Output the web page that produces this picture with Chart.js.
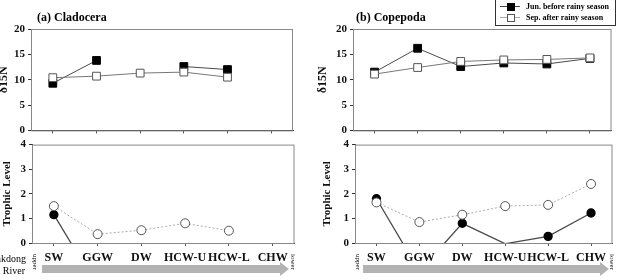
<!DOCTYPE html>
<html>
<head>
<meta charset="utf-8">
<script src="https://cdn.jsdelivr.net/npm/chart.js@4"></script>
<style>
  body { margin: 0; background: #fff; }
  #wrap { position: relative; width: 618px; height: 280px; overflow: hidden; font-family: "Liberation Serif", serif; }
  canvas { position: absolute; }
  .ttl { position: absolute; font-size: 12px; font-weight: bold; line-height: 14px; white-space: nowrap; }
  .lbl { position: absolute; white-space: nowrap; }
  #legend { position: absolute; left: 495px; top: -1px; width: 119px; height: 25px; border: 1px solid #333; background: #fff; }
  .row { position: absolute; left: 4px; width: 112px; height: 10px; font-size: 8px; font-weight: bold; line-height: 10px; white-space: nowrap; }
  .row i { position: absolute; top: 4px; width: 20px; height: 1px; }
  .row b { position: absolute; top: 1px; left: 7px; width: 6px; height: 6px; border: 1px solid #000; }
  .row span { position: absolute; left: 26px; top: 0; white-space: nowrap; }
  .rot { position: absolute; font-size: 7px; transform: rotate(90deg); transform-origin: center; }
</style>
</head>
<body>
<div id="wrap">
  <canvas id="ta" width="303" height="140" style="left:-3px;top:0"></canvas>
  <canvas id="tb" width="308" height="140" style="left:310px;top:0"></canvas>
  <canvas id="ba" width="303" height="145" style="left:-3px;top:135px"></canvas>
  <canvas id="bb" width="308" height="145" style="left:310px;top:135px"></canvas>

  <div class="ttl" style="left:37px;top:10px">(a) Cladocera</div>
  <div class="ttl" style="left:356px;top:10px">(b) Copepoda</div>

  <div id="legend">
    <div class="row" style="top:2px"><i style="background:#444"></i><b style="background:#000"></b><span>Jun. before rainy season</span></div>
    <div class="row" style="top:13px"><i style="background:#aaa"></i><b style="background:#fff;border-color:#555"></b><span>Sep. after rainy season</span></div>
  </div>

  <svg width="618" height="280" style="position:absolute;left:0;top:0">
    <polygon points="42,265 280,265 280,262 289,269 280,276 280,273 42,273" fill="#b3b3b3"/>
    <polygon points="363,265 600,265 600,262 609,269 600,276 600,273 363,273" fill="#b3b3b3"/>
  </svg>

  <div class="lbl" style="right:592px;top:253px;font-size:10px">Nakdong</div>
  <div class="lbl" style="right:593px;top:265px;font-size:10px">River</div>
  <div class="rot" style="left:27px;top:258px">upper</div>
  <div class="rot" style="left:285px;top:258px">lower</div>
  <div class="rot" style="left:350px;top:258px">upper</div>
  <div class="rot" style="left:604px;top:258px">lower</div>
</div>

<script>
const sites = ['SW', 'GGW', 'DW', 'HCW-U', 'HCW-L', 'CHW'];

// delta 15N
const cladoJunN = [9.3, 13.8, null, 12.6, 12.0, null];
const cladoSepN = [10.4, 10.7, 11.3, 11.5, 10.5, null];
const copeJunN = [11.5, 16.2, 12.6, 13.3, 13.1, 14.2];
const copeSepN = [11.1, 12.4, 13.6, 13.9, 14.0, 14.3];

// trophic level (values below 0 run off the axis)
const cladoJunTL = [1.15, -1.8, null, null, null, null];
const cladoSepTL = [1.5, 0.36, 0.52, 0.8, 0.5, null];
const copeJunTL = [1.8, -1.15, 0.8, -0.03, 0.27, 1.22];
const copeSepTL = [1.65, 0.85, 1.15, 1.5, 1.55, 2.4];

const serif = 'Liberation Serif';

// grey box around the plot area
const boxPlugin = {
  id: 'box',
  afterDraw(chart) {
    const a = chart.chartArea;
    const ctx = chart.ctx;
    ctx.save();
    ctx.strokeStyle = '#888';
    ctx.lineWidth = 1;
    ctx.strokeRect(a.left + 0.5, a.top + 0.5, a.right - a.left - 1, a.bottom - a.top);
    ctx.restore();
  }
};

function makeChart(id, opt) {
  const top = opt.kind === 'n';
  const sq = top ? 'rect' : 'circle';
  new Chart(document.getElementById(id), {
    type: 'line',
    data: {
      labels: sites,
      datasets: [{
        label: 'Jun. before rainy season',
        data: opt.jun,
        order: 2,
        borderColor: '#4a4a4a',
        borderWidth: top ? 1 : 1.3,
        pointStyle: sq,
        pointRadius: c => (c.raw != null && c.raw < 0) ? 0 : (top ? 5.5 : 4),
        pointBackgroundColor: '#000',
        pointBorderColor: '#000',
        tension: 0
      }, {
        label: 'Sep. after rainy season',
        data: opt.sep,
        order: 1,
        borderColor: top ? '#777' : '#aaa',
        borderWidth: 1,
        borderDash: top ? [] : [2, 2],
        pointStyle: sq,
        pointRadius: top ? 5.5 : 4.5,
        pointBackgroundColor: '#fff',
        pointBorderColor: '#555',
        pointBorderWidth: 1,
        tension: 0
      }]
    },
    options: {
      responsive: false,
      animation: false,
      devicePixelRatio: 1,
      layout: { padding: { top: opt.padTop, right: opt.padRight, left: 0, bottom: 0 } },
      plugins: { legend: { display: false }, tooltip: { enabled: false } },
      scales: {
        x: {
          offset: true,
          afterFit: s => { s.height = opt.xh; },
          grid: { offset: false, drawOnChartArea: false, drawTicks: true, tickLength: 3, color: '#555' },
          border: { color: '#333' },
          ticks: {
            display: !top,
            padding: 5,
            color: '#111',
            maxRotation: 0,
            autoSkip: false,
            font: { family: serif, size: 12, weight: 'bold' }
          }
        },
        y: {
          min: 0,
          max: top ? 20 : 4,
          afterFit: s => { s.width = opt.yw; },
          grid: { drawOnChartArea: false, drawTicks: true, tickLength: 3, color: '#333' },
          border: { color: '#333' },
          ticks: {
            stepSize: top ? 5 : 1,
            padding: 3,
            color: '#111',
            font: { family: serif, size: 11, weight: 'bold' }
          },
          title: {
            display: true,
            text: top ? 'δ15N' : 'Trophic Level',
            color: '#111',
            padding: { top: opt.tp, bottom: 0 },
            font: { family: serif, size: top ? 12 : 11, weight: 'bold' }
          }
        }
      }
    },
    plugins: [boxPlugin]
  });
}

makeChart('ta', { kind: 'n', jun: cladoJunN, sep: cladoSepN, padTop: 29, padRight: 7, xh: 9, yw: 34, tp: 0 });
makeChart('tb', { kind: 'n', jun: copeJunN, sep: copeSepN, padTop: 29, padRight: 3, xh: 9, yw: 43, tp: 6 });
makeChart('ba', { kind: 'tl', jun: cladoJunTL, sep: cladoSepTL, padTop: 7, padRight: 5, xh: 37, yw: 35, tp: 4 });
makeChart('bb', { kind: 'tl', jun: copeJunTL, sep: copeSepTL, padTop: 7, padRight: 2, xh: 37, yw: 45, tp: 11 });
</script>
</body>
</html>
